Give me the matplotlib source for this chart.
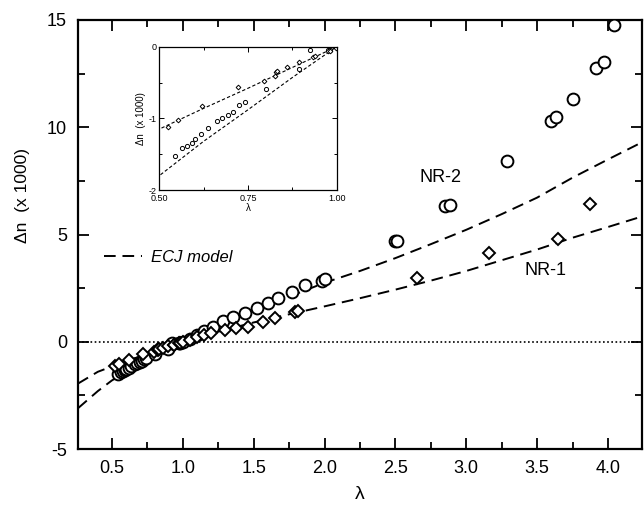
import matplotlib
matplotlib.use("Agg")
import matplotlib.pyplot as plt
from matplotlib.ticker import MultipleLocator, FixedLocator
from matplotlib.lines import Line2D

plt.rcParams["font.family"] = ["Liberation Sans", "DejaVu Sans"]

# NR-2 data (circles)
nr2_lam = [0.544, 0.565, 0.577, 0.591, 0.602, 0.617, 0.636, 0.662, 0.678, 0.694,
           0.709, 0.726, 0.742, 0.801, 0.895, 0.925, 0.975, 0.982, 1.0,
           1.05, 1.10, 1.15, 1.215, 1.285, 1.356, 1.44, 1.52, 1.60, 1.67, 1.77,
           1.86, 1.98, 2.0, 2.497, 2.51, 2.85, 2.885, 3.29, 3.60, 3.63, 3.75,
           3.913, 3.97, 4.04]
nr2_dn = [-1.526, -1.419, -1.381, -1.34, -1.288, -1.223, -1.13, -1.033, -0.991, -0.953,
          -0.907, -0.814, -0.777, -0.591, -0.316, -0.047, -0.05, -0.04, 0.0,
          0.15, 0.32, 0.5, 0.71, 0.95, 1.15, 1.34, 1.57, 1.80, 2.02, 2.32,
          2.63, 2.85, 2.92, 4.72, 4.72, 6.31, 6.39, 8.41, 10.27, 10.48, 11.31,
          12.76, 13.04, 14.78]

# NR-1 data (diamonds)
nr1_lam = [0.5235, 0.552, 0.620, 0.722, 0.796, 0.826, 0.828, 0.832, 0.859, 0.894,
           0.934, 0.939, 0.975, 0.981, 0.998,
           1.05, 1.10, 1.15, 1.20, 1.297, 1.375, 1.462, 1.568, 1.65, 1.79, 1.815,
           2.65, 3.16, 3.645, 3.873]
nr1_dn = [-1.116, -1.023, -0.828, -0.558, -0.474, -0.405, -0.353, -0.344, -0.284, -0.214,
          -0.14, -0.13, -0.056, -0.056, -0.014,
          0.1, 0.2, 0.3, 0.4, 0.56, 0.64, 0.71, 0.93, 1.1, 1.38, 1.45,
          2.97, 4.13, 4.80, 6.43]

# ECJ model curves
ecj_lam = [0.26, 0.4, 0.5, 0.625, 0.75, 0.875, 1.0, 1.25, 1.5, 1.75, 2.0, 2.25,
           2.5, 2.75, 3.0, 3.25, 3.5, 3.75, 4.0, 4.24]
ecj_nr2 = [-3.1, -2.3, -1.8, -1.32, -0.88, -0.43, 0.0, 0.75, 1.45, 2.1, 2.75, 3.3,
           3.9, 4.55, 5.22, 5.95, 6.72, 7.65, 8.5, 9.3]
ecj_nr1 = [-1.95, -1.4, -1.15, -0.86, -0.58, -0.29, 0.0, 0.47, 0.9, 1.28, 1.65, 2.03,
           2.43, 2.85, 3.3, 3.8, 4.3, 4.85, 5.35, 5.84]

x_ticks = [0.5, 1.0, 1.5, 2.0, 2.5, 3.0, 3.5, 4.0]
y_ticks = [-5, 0, 5, 10, 15]

W, H = 644, 508
fig = plt.figure(figsize=(W / 100, H / 100), dpi=100)
fig.set_facecolor("white")
ax = fig.add_axes([78 / W, (H - 449) / H, 564 / W, 429 / H])

dash = (0, (6, 3.5))
ax.plot(ecj_lam, ecj_nr2, color="black", lw=1.4, ls=dash, zorder=2)
ax.plot(ecj_lam, ecj_nr1, color="black", lw=1.4, ls=dash, zorder=2)
ax.axhline(0, color="black", lw=1.2, ls=(0, (1, 1.5)), zorder=1)

ax.plot(nr2_lam, nr2_dn, ls="none", marker="o", ms=8.5, mfc="white",
        mec="black", mew=1.4, zorder=3)
ax.plot(nr1_lam, nr1_dn, ls="none", marker="D", ms=6.2, mfc="white",
        mec="black", mew=1.4, zorder=3)

ax.set_xlim(0.26, 4.24)
ax.set_ylim(-5, 15)
ax.xaxis.set_major_locator(FixedLocator(x_ticks))
ax.xaxis.set_minor_locator(MultipleLocator(0.25))
ax.yaxis.set_major_locator(FixedLocator(y_ticks))
ax.yaxis.set_minor_locator(MultipleLocator(2.5))
ax.set_xticklabels([f"{v:.1f}" for v in x_ticks])
ax.set_yticklabels([str(v) for v in y_ticks])
ax.tick_params(which="both", direction="in", top=True, right=True,
               labelsize=13, pad=8, width=1.3)
ax.tick_params(which="major", length=8)
ax.tick_params(which="minor", length=5)
for s in ax.spines.values():
    s.set_linewidth(1.6)

ax.set_xlabel("λ", fontsize=14)
ax.xaxis.set_label_coords(0.5, -0.087)
ax.set_ylabel("Δn  (x 1000)", fontsize=12.5)
ax.yaxis.set_label_coords(-0.085, 0.59)

ax.text(2.82, 7.65, "NR-2", fontsize=13, ha="center", va="center")
ax.text(3.56, 3.33, "NR-1", fontsize=13, ha="center", va="center")

handle = Line2D([], [], color="black", lw=1.4, ls=dash)
ax.legend([handle], ["ECJ model"], loc="center left",
          bbox_to_anchor=(104 / W, (H - 257) / H), bbox_transform=fig.transFigure,
          frameon=False, borderpad=0, borderaxespad=0, handlelength=2.3,
          handletextpad=0.5, prop={"style": "italic", "size": 12})

# inset: zoom on 0.5 < lambda < 1
ins = fig.add_axes([159.3 / W, (H - 190) / H, 177.4 / W, 143.3 / H])
ins_dash = (0, (3, 2))
ins.plot(ecj_lam, ecj_nr2, color="black", lw=0.8, ls=ins_dash)
ins.plot(ecj_lam, ecj_nr1, color="black", lw=0.8, ls=ins_dash)
ins.plot(nr2_lam, nr2_dn, ls="none", marker="o", ms=3, mfc="white",
         mec="black", mew=0.7)
ins.plot(nr1_lam, nr1_dn, ls="none", marker="D", ms=2.4, mfc="white",
         mec="black", mew=0.7)
ins.set_xlim(0.5, 1.0)
ins.set_ylim(-2, 0)
ins.xaxis.set_major_locator(FixedLocator([0.5, 0.75, 1.0]))
ins.xaxis.set_minor_locator(MultipleLocator(0.125))
ins.yaxis.set_major_locator(FixedLocator([-2, -1, 0]))
ins.yaxis.set_minor_locator(MultipleLocator(0.5))
ins.set_xticklabels(["0.50", "0.75", "1.00"])
ins.set_yticklabels(["-2", "-1", "0"])
ins.tick_params(which="both", direction="in", top=True, right=True,
                labelsize=6.5, width=0.7)
ins.tick_params(axis="x", pad=3)
ins.tick_params(axis="y", pad=2)
ins.tick_params(which="major", length=3.5)
ins.tick_params(which="minor", length=2.5)
for s in ins.spines.values():
    s.set_linewidth(0.9)
ins.set_xlabel("λ", fontsize=7, labelpad=0)
ins.set_ylabel("Δn  (x 1000)", fontsize=7, labelpad=2)

fig.savefig("out.png", dpi=100)
